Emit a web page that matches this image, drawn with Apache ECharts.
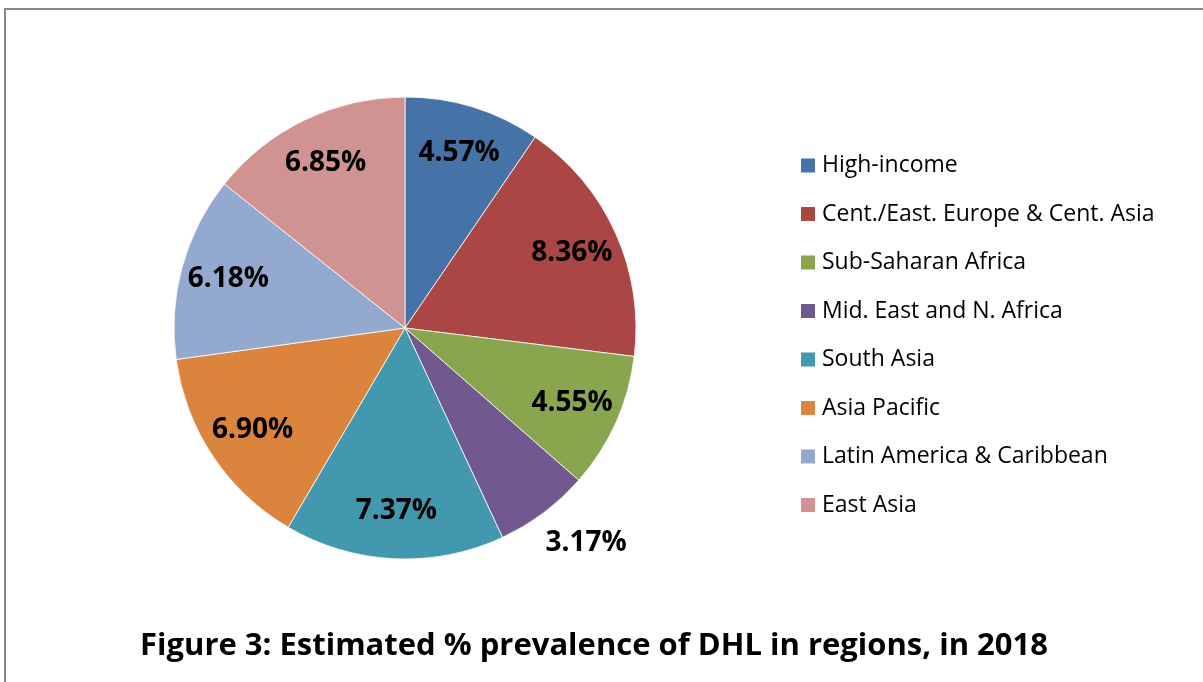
<!DOCTYPE html>
<html>
<head>
<meta charset="utf-8">
<script src="https://cdn.jsdelivr.net/npm/echarts@6/dist/echarts.min.js"></script>
<style>
  html, body { margin: 0; padding: 0; background: #fff; }
  #wrap { position: relative; width: 1203px; height: 682px; }
  #frame {
    position: absolute; left: 4px; top: 8px; right: -10px; bottom: -10px;
    border-top: 2px solid #878787; border-left: 2px solid #878787;
  }
  #myChart { position: absolute; left: 0; top: 0; width: 1203px; height: 682px; }
</style>
</head>
<body>
<div id="wrap">
  <div id="frame"></div>
  <div id="myChart"></div>
</div>
<script>
// regions and their estimated DHL prevalence (%)
const regions = [
  "High-income",
  "Cent./East. Europe & Cent. Asia",
  "Sub-Saharan Africa",
  "Mid. East and N. Africa",
  "South Asia",
  "Asia Pacific",
  "Latin America & Caribbean",
  "East Asia",
];
const prevalence = [4.57, 8.36, 4.55, 3.17, 7.37, 6.9, 6.18, 6.85];
const colors = ["#4572A7", "#AA4643", "#89A54E", "#71588F", "#4198AF", "#DB843D", "#93A9CF", "#D19392"];
const titleText = "Figure 3: Estimated % prevalence of DHL in regions, in 2018";

const FONT = "'Open Sans', 'Noto Sans', sans-serif";
const R = 231; // pie radius (px)
const center = [405, 328];
const SMALL = 4; // slices below this get their label outside

const fmt = (p) => p.value.toFixed(2) + "%";
const labelStyle = {
  fontFamily: FONT,
  fontSize: 28,
  fontWeight: "bold",
  color: "#000",
};

const pieData = regions.map((name, i) => ({
  name: name,
  value: prevalence[i],
  itemStyle: { color: colors[i] },
}));

// transparent rings only used to place the labels like Excel does
const innerLabels = regions.map((name, i) => ({
  name: name,
  value: prevalence[i],
  label: { show: prevalence[i] >= SMALL },
}));
const outerLabels = regions.map((name, i) => ({
  name: name,
  value: prevalence[i],
  label: { show: prevalence[i] < SMALL },
}));

const myChart = echarts.init(document.getElementById("myChart"));
const option = {
  animation: false,
  textStyle: { fontFamily: FONT },
  title: {
    text: titleText,
    left: 589,
    textAlign: "center",
    top: 626,
    textStyle: { fontFamily: FONT, fontSize: 31, fontWeight: "bold", color: "#000" },
  },
  legend: {
    orient: "vertical",
    left: 794,
    top: 148,
    icon: "rect",
    itemWidth: 16,
    itemHeight: 16,
    itemGap: 23.5,
    data: regions,
    textStyle: { fontFamily: FONT, fontSize: 23, color: "#000", lineHeight: 25, padding: [0, 0, 0, 1] },
  },
  series: [
    {
      type: "pie",
      center: center,
      radius: [0, R],
      startAngle: 90,
      clockwise: true,
      silent: true,
      data: pieData,
      itemStyle: { borderColor: "#fff", borderWidth: 0.8 },
      label: { show: false },
      labelLine: { show: false },
    },
    {
      type: "pie",
      center: center,
      radius: [R * 0.56, R],
      startAngle: 90,
      clockwise: true,
      silent: true,
      data: innerLabels,
      itemStyle: { color: "transparent" },
      label: Object.assign({ position: "inside", formatter: fmt }, labelStyle),
    },
    {
      type: "pie",
      center: center,
      radius: [R, R * 1.3],
      startAngle: 90,
      clockwise: true,
      silent: true,
      data: outerLabels,
      itemStyle: { color: "transparent" },
      label: Object.assign({ position: "inside", formatter: fmt }, labelStyle),
      labelLayout: { dx: 20 },
    },
  ],
};
myChart.setOption(option);
</script>
</body>
</html>
